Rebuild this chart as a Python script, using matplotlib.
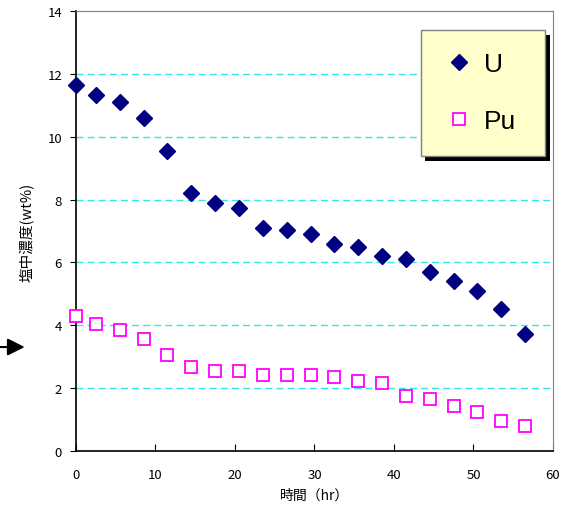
import matplotlib
matplotlib.use("Agg")
import matplotlib.pyplot as plt
from matplotlib.patches import Rectangle, FancyArrowPatch

plt.rcParams['font.family'] = ['Noto Sans CJK JP', 'DejaVu Sans']

# 時間 (hr)
time_hr = [0, 2.5, 5.5, 8.5, 11.5, 14.5, 17.5, 20.5, 23.5, 26.5,
           29.5, 32.5, 35.5, 38.5, 41.5, 44.5, 47.5, 50.5, 53.5, 56.5]
# 塩中濃度 (wt%)
u_conc = [11.64, 11.33, 11.1, 10.6, 9.54, 8.22, 7.9, 7.73, 7.1, 7.02,
          6.9, 6.6, 6.5, 6.2, 6.1, 5.7, 5.4, 5.1, 4.51, 3.71]
pu_conc = [4.28, 4.03, 3.85, 3.56, 3.05, 2.66, 2.56, 2.56, 2.42, 2.42,
           2.42, 2.34, 2.24, 2.15, 1.74, 1.66, 1.43, 1.24, 0.94, 0.80]

x_ticks = [0, 10, 20, 30, 40, 50, 60]
y_ticks = [0, 2, 4, 6, 8, 10, 12, 14]

fig = plt.figure(figsize=(5.74, 5.10), dpi=100)
ax = fig.add_axes([0.1324, 0.1137, 0.831, 0.8628])

for y in y_ticks[1:-1]:
    ax.axhline(y, color='#33e6e6', lw=1.0, dashes=(5, 3), zorder=1)

ax.plot(time_hr, u_conc, linestyle='none', marker='D', ms=7.8,
        color='#000080', mec='#000080', label='U', zorder=3, clip_on=False)
ax.plot(time_hr, pu_conc, linestyle='none', marker='s', ms=8.3,
        mfc='white', mec='#ff00ff', mew=1.3, label='Pu', zorder=3, clip_on=False)

ax.set_xlim(0, 60)
ax.set_ylim(0, 14)
ax.set_xticks(x_ticks)
ax.set_yticks(y_ticks)
ax.tick_params(axis='x', direction='in', length=5, pad=12, labelsize=9.5)
ax.tick_params(axis='y', direction='out', length=4, pad=6, labelsize=9.5)

for side in ['top', 'right']:
    ax.spines[side].set_color('#808080')
for side in ['left', 'bottom']:
    ax.spines[side].set_color('black')
    ax.spines[side].set_linewidth(1.2)

ax.set_xlabel('時間（hr）', fontsize=10, labelpad=5)
ax.set_ylabel('塩中濃度(wt%)', fontsize=10.5, labelpad=9)

# legend box with shadow
bx0, by0, bw, bh = 0.7226, 0.671, 0.2614, 0.2865
ax.add_patch(Rectangle((bx0 + 0.010, by0 - 0.011), bw, bh, transform=ax.transAxes,
                       facecolor='black', edgecolor='none', zorder=4, clip_on=False))
ax.add_patch(Rectangle((bx0, by0), bw, bh, transform=ax.transAxes,
                       facecolor='#ffffcc', edgecolor='#808080', lw=1.0, zorder=5,
                       clip_on=False))
leg = ax.legend(loc='center', bbox_to_anchor=(bx0 + bw / 2 - 0.004, by0 + bh / 2),
                frameon=False, handlelength=1.0, handletextpad=0.45,
                labelspacing=1.25, markerscale=1.0,
                prop={'family': 'Liberation Sans', 'size': 19})
leg.set_zorder(6)

fig.patches.append(FancyArrowPatch(
    (0.0, 0.3176), (0.043, 0.3176), transform=fig.transFigure,
    arrowstyle='-|>', mutation_scale=26, color='black', lw=1.5,
    shrinkA=0, shrinkB=0))

fig.savefig('out.png', dpi=100)
